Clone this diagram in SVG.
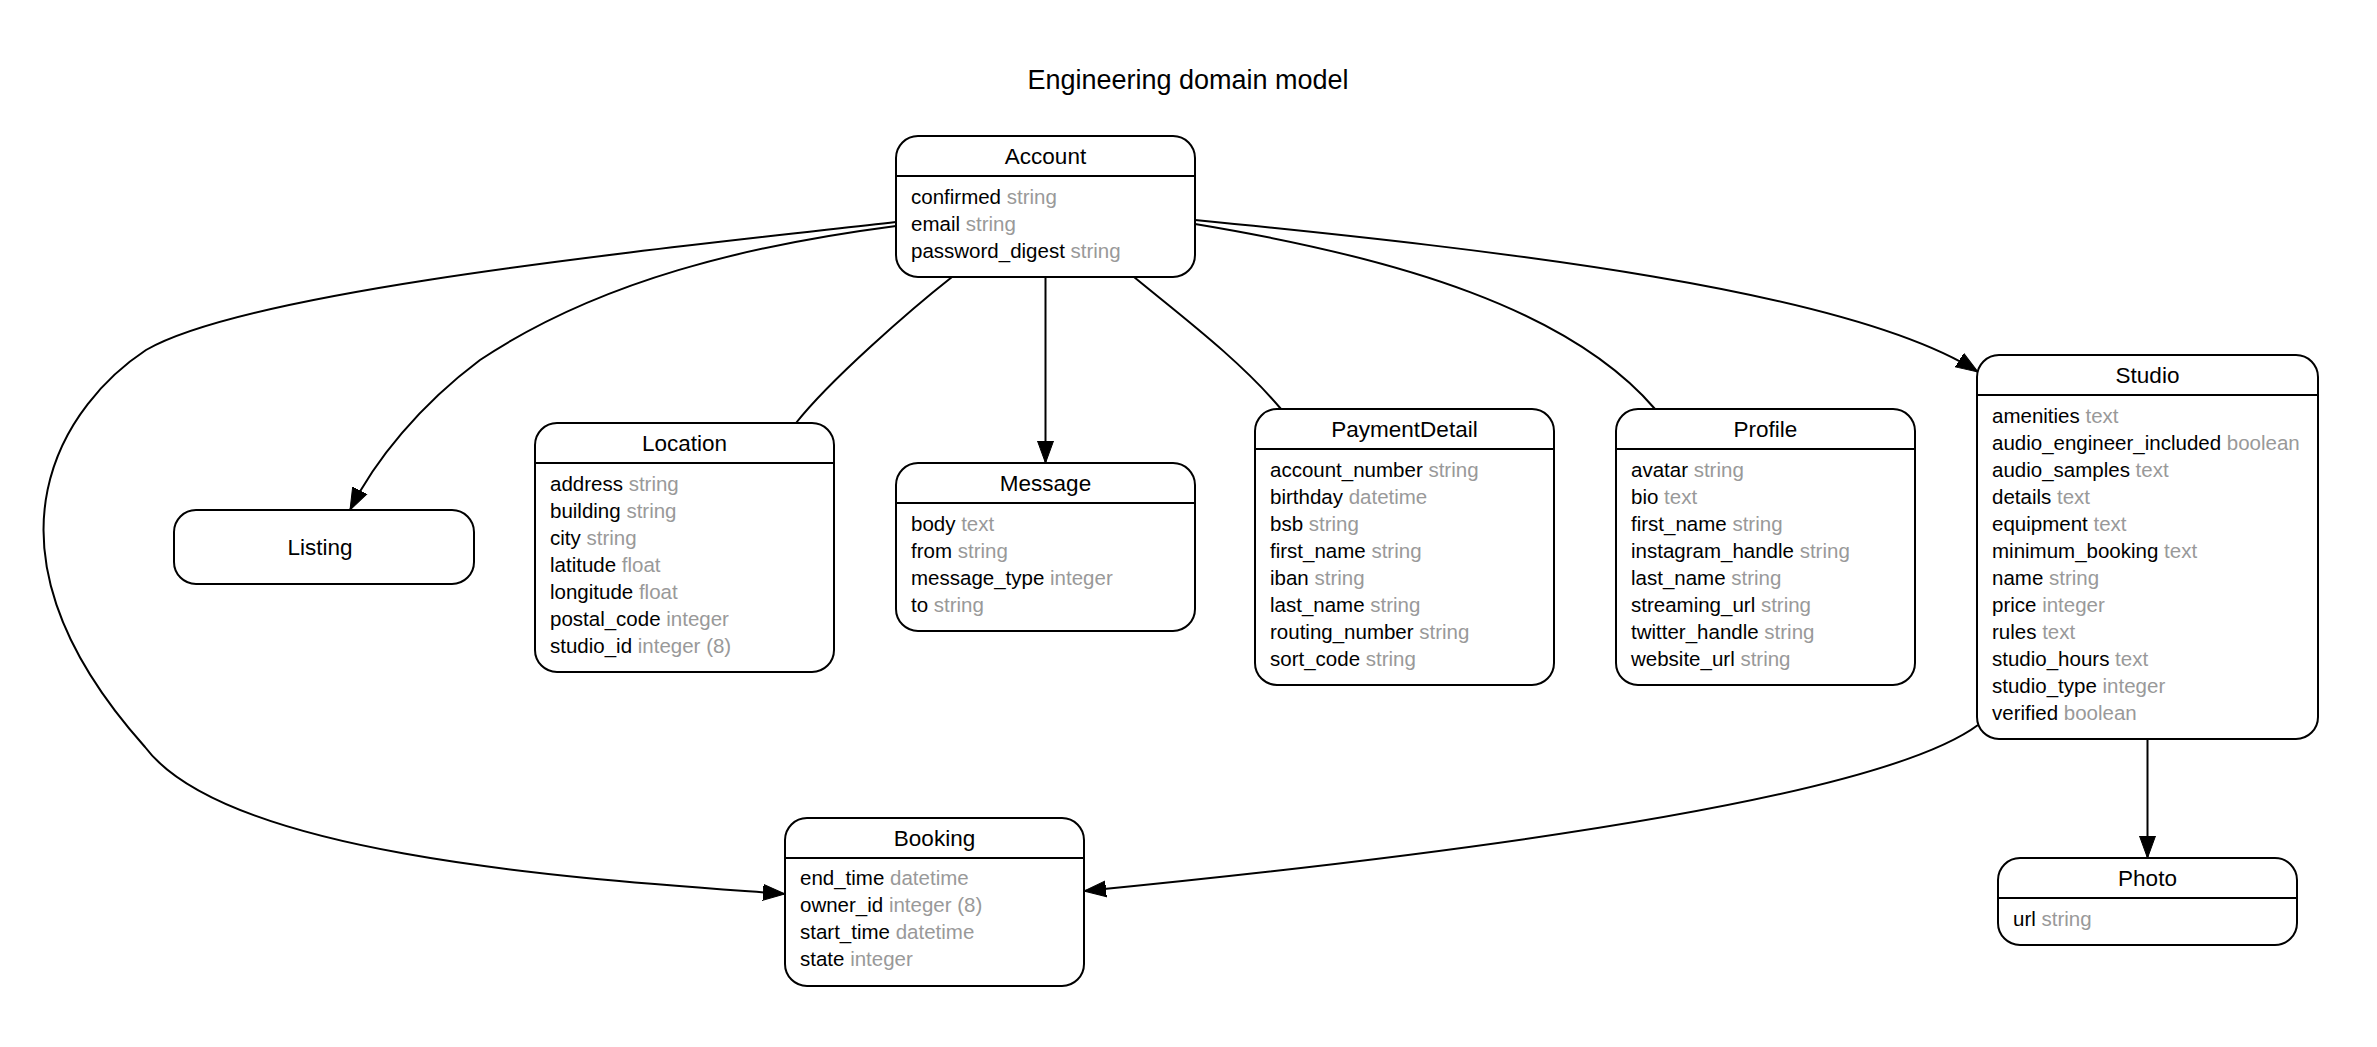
<svg xmlns="http://www.w3.org/2000/svg" width="2377" height="1047" viewBox="0 0 2377 1047">
<style>
text{font-family:"Liberation Sans",Arial,sans-serif;fill:#000}
.gt{font-size:27px;text-anchor:middle}
.nt{font-size:22.5px;text-anchor:middle}
.a{font-size:20.5px}
.t{fill:#999999}
.box{fill:#fff;stroke:#000;stroke-width:2}
.div{stroke:#000;stroke-width:2}
.e{fill:none;stroke:#000;stroke-width:2}
</style>
<defs>
<marker id="arr" viewBox="0 -9 23 18" markerWidth="23" markerHeight="18" refX="22" refY="0" orient="auto" markerUnits="userSpaceOnUse">
<path d="M0,-8 L22,0 L0,8 z" fill="#000" stroke="#000" stroke-width="1"/>
</marker>
</defs>
<rect width="2377" height="1047" fill="#fff"/>
<text class="gt" x="1188" y="89">Engineering domain model</text>

<g id="connectors">
<path class="e" d="M896,222 C650,250 250,290 146,350 C70,400 -40,540 145,747 C230,860 600,880 785,894" marker-end="url(#arr)"/>
<path class="e" d="M896,226 C750,245 600,280 480,360 C420,405 375,460 350,510" marker-end="url(#arr)"/>
<path class="e" d="M952,277 C910,310 830,380 796,423"/>
<path class="e" d="M1045.5,277 L1045.5,463" marker-end="url(#arr)"/>
<path class="e" d="M1134,277 C1180,315 1240,360 1281,409"/>
<path class="e" d="M1195,224 C1400,258 1570,310 1655,409"/>
<path class="e" d="M1195,220 C1500,250 1850,290 1978,372" marker-end="url(#arr)"/>
<path class="e" d="M1978,725 C1870,805 1400,860 1084,891" marker-end="url(#arr)"/>
<path class="e" d="M2147.5,739 L2147.5,858" marker-end="url(#arr)"/>
</g>

<g id="Account">
<rect class="box" x="896" y="136" width="299" height="141" rx="22"/>
<line class="div" x1="896" y1="176" x2="1195" y2="176"/>
<text class="nt" x="1045.5" y="164">Account</text>
<text class="a" x="911" y="204">confirmed <tspan class="t">string</tspan></text>
<text class="a" x="911" y="231">email <tspan class="t">string</tspan></text>
<text class="a" x="911" y="258">password_digest <tspan class="t">string</tspan></text>
</g>

<g id="Listing">
<rect class="box" x="174" y="510" width="300" height="74" rx="22"/>
<text class="nt" x="320" y="555">Listing</text>
</g>

<g id="Location">
<rect class="box" x="535" y="423" width="299" height="249" rx="22"/>
<line class="div" x1="535" y1="463" x2="834" y2="463"/>
<text class="nt" x="684.5" y="451">Location</text>
<text class="a" x="550" y="491">address <tspan class="t">string</tspan></text>
<text class="a" x="550" y="518">building <tspan class="t">string</tspan></text>
<text class="a" x="550" y="545">city <tspan class="t">string</tspan></text>
<text class="a" x="550" y="572">latitude <tspan class="t">float</tspan></text>
<text class="a" x="550" y="599">longitude <tspan class="t">float</tspan></text>
<text class="a" x="550" y="626">postal_code <tspan class="t">integer</tspan></text>
<text class="a" x="550" y="653">studio_id <tspan class="t">integer (8)</tspan></text>
</g>

<g id="Message">
<rect class="box" x="896" y="463" width="299" height="168" rx="22"/>
<line class="div" x1="896" y1="503" x2="1195" y2="503"/>
<text class="nt" x="1045.5" y="491">Message</text>
<text class="a" x="911" y="531">body <tspan class="t">text</tspan></text>
<text class="a" x="911" y="558">from <tspan class="t">string</tspan></text>
<text class="a" x="911" y="585">message_type <tspan class="t">integer</tspan></text>
<text class="a" x="911" y="612">to <tspan class="t">string</tspan></text>
</g>

<g id="PaymentDetail">
<rect class="box" x="1255" y="409" width="299" height="276" rx="22"/>
<line class="div" x1="1255" y1="449" x2="1554" y2="449"/>
<text class="nt" x="1404.5" y="437">PaymentDetail</text>
<text class="a" x="1270" y="477">account_number <tspan class="t">string</tspan></text>
<text class="a" x="1270" y="504">birthday <tspan class="t">datetime</tspan></text>
<text class="a" x="1270" y="531">bsb <tspan class="t">string</tspan></text>
<text class="a" x="1270" y="558">first_name <tspan class="t">string</tspan></text>
<text class="a" x="1270" y="585">iban <tspan class="t">string</tspan></text>
<text class="a" x="1270" y="612">last_name <tspan class="t">string</tspan></text>
<text class="a" x="1270" y="639">routing_number <tspan class="t">string</tspan></text>
<text class="a" x="1270" y="666">sort_code <tspan class="t">string</tspan></text>
</g>

<g id="Profile">
<rect class="box" x="1616" y="409" width="299" height="276" rx="22"/>
<line class="div" x1="1616" y1="449" x2="1915" y2="449"/>
<text class="nt" x="1765.5" y="437">Profile</text>
<text class="a" x="1631" y="477">avatar <tspan class="t">string</tspan></text>
<text class="a" x="1631" y="504">bio <tspan class="t">text</tspan></text>
<text class="a" x="1631" y="531">first_name <tspan class="t">string</tspan></text>
<text class="a" x="1631" y="558">instagram_handle <tspan class="t">string</tspan></text>
<text class="a" x="1631" y="585">last_name <tspan class="t">string</tspan></text>
<text class="a" x="1631" y="612">streaming_url <tspan class="t">string</tspan></text>
<text class="a" x="1631" y="639">twitter_handle <tspan class="t">string</tspan></text>
<text class="a" x="1631" y="666">website_url <tspan class="t">string</tspan></text>
</g>

<g id="Studio">
<rect class="box" x="1977" y="355" width="341" height="384" rx="22"/>
<line class="div" x1="1977" y1="395" x2="2318" y2="395"/>
<text class="nt" x="2147.5" y="383">Studio</text>
<text class="a" x="1992" y="423">amenities <tspan class="t">text</tspan></text>
<text class="a" x="1992" y="450">audio_engineer_included <tspan class="t">boolean</tspan></text>
<text class="a" x="1992" y="477">audio_samples <tspan class="t">text</tspan></text>
<text class="a" x="1992" y="504">details <tspan class="t">text</tspan></text>
<text class="a" x="1992" y="531">equipment <tspan class="t">text</tspan></text>
<text class="a" x="1992" y="558">minimum_booking <tspan class="t">text</tspan></text>
<text class="a" x="1992" y="585">name <tspan class="t">string</tspan></text>
<text class="a" x="1992" y="612">price <tspan class="t">integer</tspan></text>
<text class="a" x="1992" y="639">rules <tspan class="t">text</tspan></text>
<text class="a" x="1992" y="666">studio_hours <tspan class="t">text</tspan></text>
<text class="a" x="1992" y="693">studio_type <tspan class="t">integer</tspan></text>
<text class="a" x="1992" y="720">verified <tspan class="t">boolean</tspan></text>
</g>

<g id="Booking">
<rect class="box" x="785" y="818" width="299" height="168" rx="22"/>
<line class="div" x1="785" y1="858" x2="1084" y2="858"/>
<text class="nt" x="934.5" y="846">Booking</text>
<text class="a" x="800" y="885">end_time <tspan class="t">datetime</tspan></text>
<text class="a" x="800" y="912">owner_id <tspan class="t">integer (8)</tspan></text>
<text class="a" x="800" y="939">start_time <tspan class="t">datetime</tspan></text>
<text class="a" x="800" y="966">state <tspan class="t">integer</tspan></text>
</g>

<g id="Photo">
<rect class="box" x="1998" y="858" width="299" height="87" rx="22"/>
<line class="div" x1="1998" y1="898" x2="2297" y2="898"/>
<text class="nt" x="2147.5" y="886">Photo</text>
<text class="a" x="2013" y="926">url <tspan class="t">string</tspan></text>
</g>
</svg>
